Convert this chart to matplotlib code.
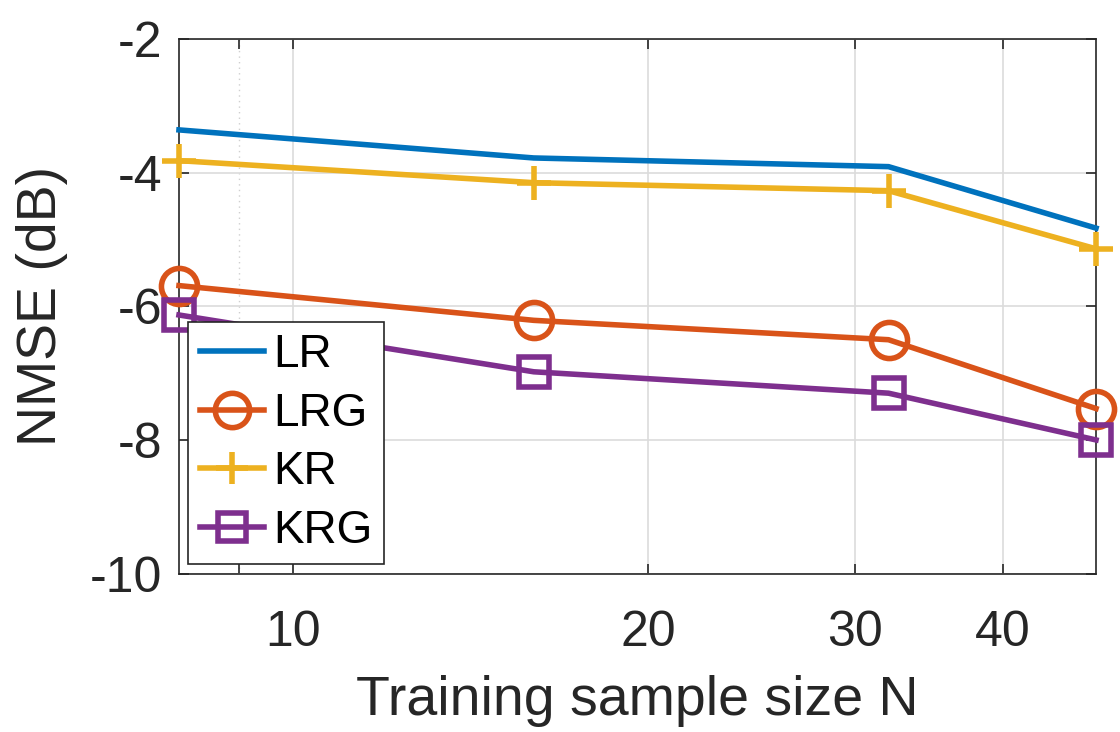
import matplotlib
matplotlib.use("Agg")
import matplotlib.pyplot as plt
from matplotlib.ticker import FixedLocator, NullFormatter

plt.rcParams['font.family'] = ['Liberation Sans', 'DejaVu Sans']

N = [8, 16, 32, 48]
LR = [-3.36, -3.78, -3.91, -4.83]
LRG = [-5.69, -6.21, -6.50, -7.53]
KR = [-3.82, -4.15, -4.27, -5.14]
KRG = [-6.13, -6.98, -7.30, -8.00]
xticks = [10, 20, 30, 40]
yticks = [-10, -8, -6, -4, -2]

fig = plt.figure(figsize=(11.2, 7.32), dpi=100)
ax = fig.add_axes([0.1598, 0.2164, 0.8188, 0.7303])

dark = '#262626'
lw = 4.0
ax.plot(N, LR, color='#0072BD', lw=lw, label='LR', clip_on=False, zorder=3)
ax.plot(N, LRG, color='#D95319', lw=lw, marker='o', ms=26, mfc='none', mew=lw,
        label='LRG', clip_on=False, zorder=3)
ax.plot(N, KR, color='#EDB120', lw=lw, marker='+', ms=25, mew=lw,
        label='KR', clip_on=False, zorder=3)
ax.plot(N, KRG, color='#7E2F8E', lw=lw, marker='s', ms=21, mfc='none', mew=lw,
        label='KRG', clip_on=False, zorder=3)

ax.set_xscale('log')
ax.set_xlim(8, 48)
ax.set_ylim(-10, -2)
ax.xaxis.set_major_locator(FixedLocator(xticks))
ax.set_xticklabels([str(t) for t in xticks])
ax.xaxis.set_minor_locator(FixedLocator([9]))
ax.xaxis.set_minor_formatter(NullFormatter())
ax.set_yticks(yticks)
ax.set_yticklabels([str(t) for t in yticks])

ax.grid(True, which='major', color='#dcdcdc', lw=1.2)
ax.grid(True, which='minor', color='#cfcfcf', lw=1.0, ls=(0, (1, 3)))
ax.set_axisbelow(True)

ax.tick_params(axis='both', which='both', direction='in', colors=dark,
               labelsize=36, length=7, width=1.2, top=True, right=True)
ax.tick_params(axis='x', pad=26)
ax.tick_params(axis='y', pad=12)
for s in ax.spines.values():
    s.set_color(dark)
    s.set_linewidth(1.2)

ax.set_xlabel('Training sample size N', fontsize=40, color=dark, labelpad=14)
ax.set_ylabel('NMSE (dB)', fontsize=40, color=dark, labelpad=16)

leg = ax.legend(loc='lower left', fontsize=33, frameon=True, fancybox=False,
                edgecolor=dark, framealpha=1, borderaxespad=0.2,
                handlelength=1.4, handletextpad=0.2, borderpad=0.25,
                labelspacing=0.32, markerscale=0.95)
leg.get_frame().set_linewidth(1.2)
for t in leg.get_texts():
    t.set_color('black')

fig.savefig('out.png', dpi=100)
